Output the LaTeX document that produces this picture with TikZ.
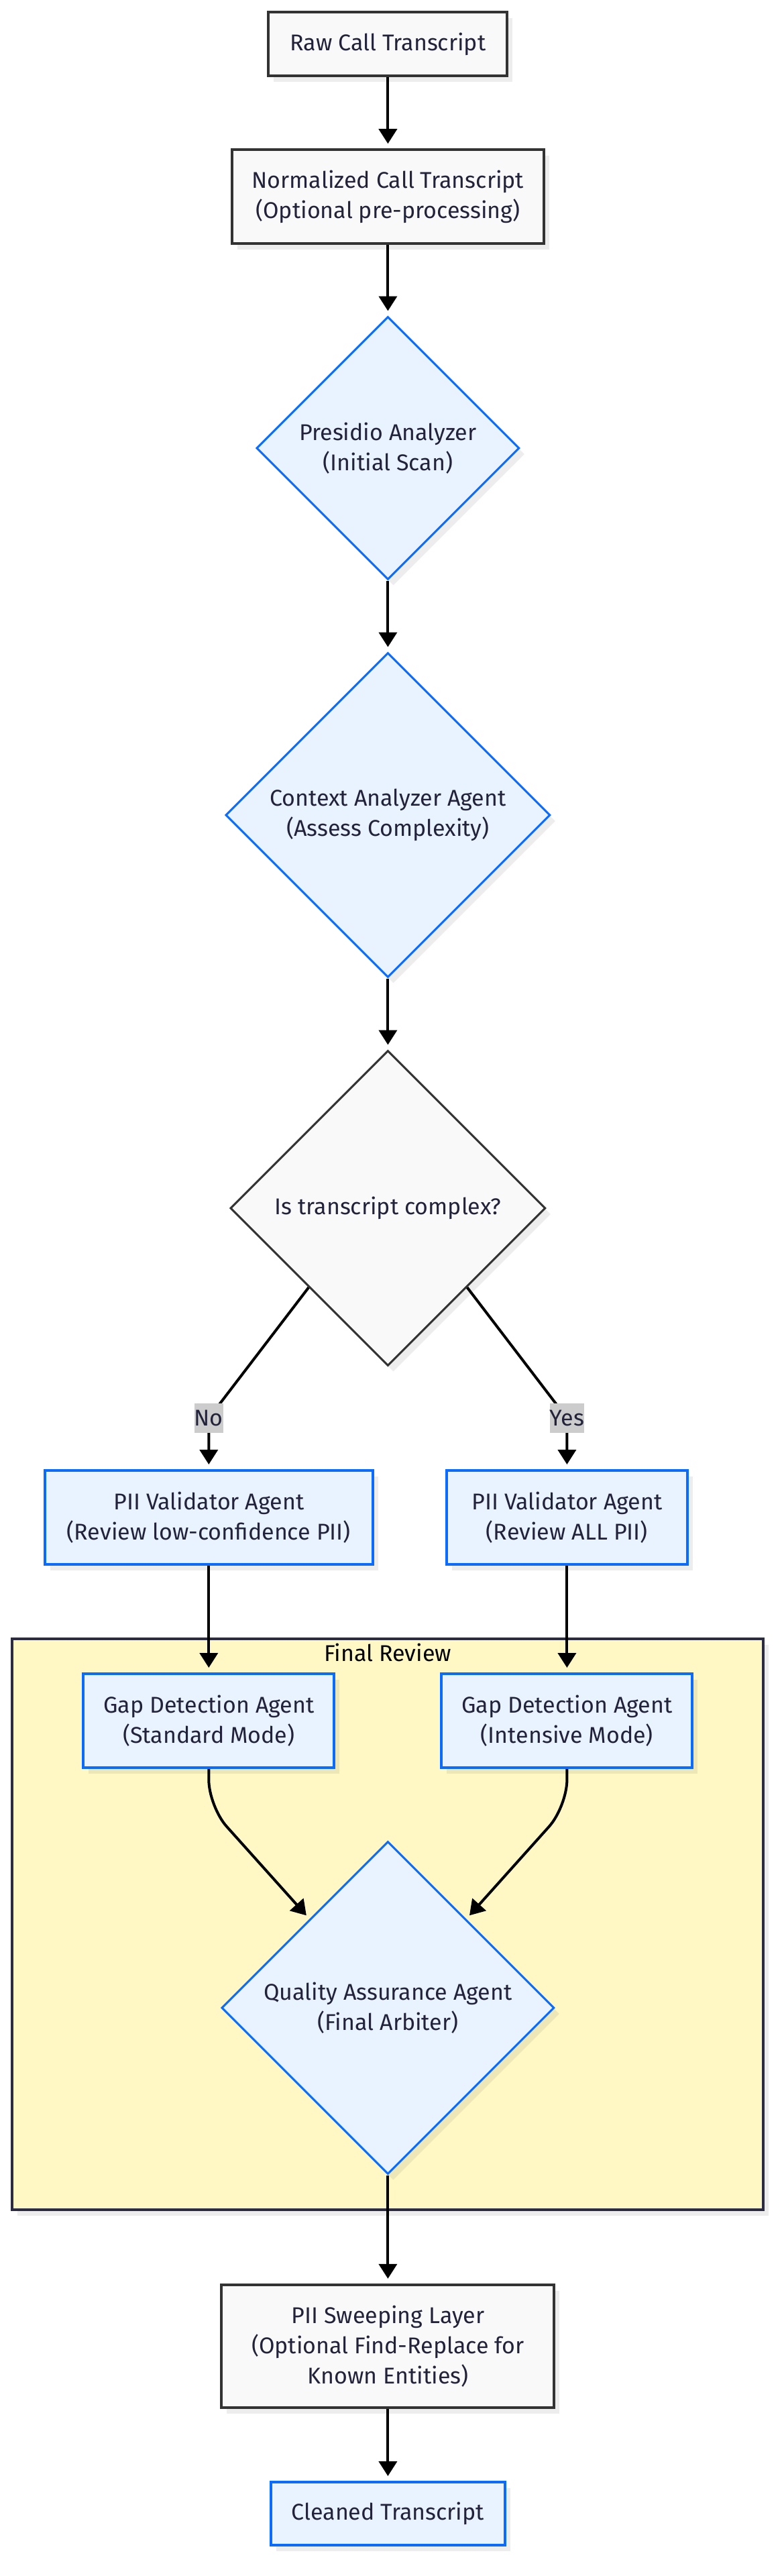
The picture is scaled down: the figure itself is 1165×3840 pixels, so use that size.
\documentclass[tikz,border=0pt]{standalone}
\usepackage{fontspec}
\setmainfont{Fira Sans}
\usetikzlibrary{arrows.meta,shapes.geometric,shadows}
\definecolor{txt}{HTML}{22223A}
\definecolor{greyfill}{HTML}{F9F9F9}
\definecolor{greydraw}{HTML}{333333}
\definecolor{bluefill}{HTML}{E8F3FF}
\definecolor{bluedraw}{HTML}{0A6CFF}
\definecolor{clusterfill}{HTML}{FFF8C5}
\definecolor{clusterdraw}{HTML}{2B2B42}
\definecolor{labelfill}{HTML}{CCCCCC}
\begin{document}
\begin{tikzpicture}[x=1pt,y=-1pt,
  every node/.style={font=\fontsize{34}{45}\selectfont, text=txt, align=center, inner sep=0pt},
  shad/.style={drop shadow={shadow xshift=8pt, shadow yshift=-9pt, opacity=0.07, fill=black}},
  greybox/.style={rectangle, draw=greydraw, fill=greyfill, line width=4pt, shad},
  bluebox/.style={rectangle, draw=bluedraw, fill=bluefill, line width=4pt, shad},
  bluedia/.style={diamond, aspect=1, draw=bluedraw, fill=bluefill, line width=3pt, shad},
  greydia/.style={diamond, aspect=1, draw=greydraw, fill=greyfill, line width=3pt, shad},
  elabel/.style={fill=labelfill, minimum width=38pt, minimum height=44pt},
  flow/.style={draw=black, line width=4pt, -{Triangle[width=27pt,length=22pt]}, shorten >=7pt},
]
\useasboundingbox (0,0) rectangle (1165,3840);
% cluster
\node[rectangle, draw=clusterdraw, fill=clusterfill, line width=4pt, shad,
      minimum width=1120pt, minimum height=851pt] (cluster) at (578.4,2868.5) {};
\node[text=black] (ctitle) at (578,2463) {Final Review};
% nodes
\node[greybox, minimum width=356pt, minimum height=95pt] (raw) at (578.4,65.5) {Raw Call Transcript};
\node[greybox, minimum width=465pt, minimum height=139.5pt] (norm) at (578.4,293) {Normalized Call Transcript\\(Optional pre-processing)};
\node[bluedia, minimum width=392pt, minimum height=392pt] (pres) at (578.4,668) {Presidio Analyzer\\(Initial Scan)};
\node[bluedia, minimum width=484pt, minimum height=484pt] (ctx) at (578.4,1215) {Context Analyzer Agent\\(Assess Complexity)};
\node[greydia, minimum width=470pt, minimum height=470pt] (dec) at (578.4,1801) {Is transcript complex?};
\node[bluebox, minimum width=489pt, minimum height=140pt] (valL) at (311.3,2262) {PII Validator Agent\\(Review low-confidence PII)};
\node[bluebox, minimum width=359pt, minimum height=140pt] (valR) at (845.4,2262) {PII Validator Agent\\(Review ALL PII)};
\node[bluebox, minimum width=374pt, minimum height=140pt] (gapL) at (311.3,2565) {Gap Detection Agent\\(Standard Mode)};
\node[bluebox, minimum width=374pt, minimum height=140pt] (gapR) at (845.4,2565) {Gap Detection Agent\\(Intensive Mode)};
\node[bluedia, minimum width=496pt, minimum height=496pt] (qa) at (578.4,2993) {Quality Assurance Agent\\(Final Arbiter)};
\node[greybox, minimum width=496pt, minimum height=183.5pt] (sweep) at (578.4,3497.5) {PII Sweeping Layer\\(Optional Find-Replace for\\Known Entities)};
\node[bluebox, minimum width=349pt, minimum height=94pt] (clean) at (578.4,3747) {Cleaned Transcript};
% connectors
\draw[flow] (raw.south) -- (norm.north);
\draw[flow] (norm.south) -- (pres.north);
\draw[flow] (pres.south) -- (ctx.north);
\draw[flow] (ctx.south) -- (dec.north);
\coordinate (nopos) at (311.3,2114);
\coordinate (yespos) at (845.4,2114);
\draw[flow] (dec.south west) -- (nopos) -- (valL.north);
\draw[flow] (dec.south east) -- (yespos) -- (valR.north);
\node[elabel] (nolab) at (nopos) {No};
\node[elabel, minimum width=50pt] (yeslab) at (yespos) {Yes};
\draw[flow] (valL.south) -- (gapL.north);
\draw[flow] (valR.south) -- (gapR.north);
\coordinate (bendL) at (311.3,2693);
\coordinate (bendR) at (845.4,2693);
\coordinate (qaL) at (461.5,2860.5);
\coordinate (qaR) at (695.3,2860.5);
\draw[flow, rounded corners=40pt] (gapL.south) -- (bendL) -- (qaL);
\draw[flow, rounded corners=40pt] (gapR.south) -- (bendR) -- (qaR);
\draw[flow] (qa.south) -- (sweep.north);
\draw[flow] (sweep.south) -- (clean.north);
\end{tikzpicture}
\end{document}
